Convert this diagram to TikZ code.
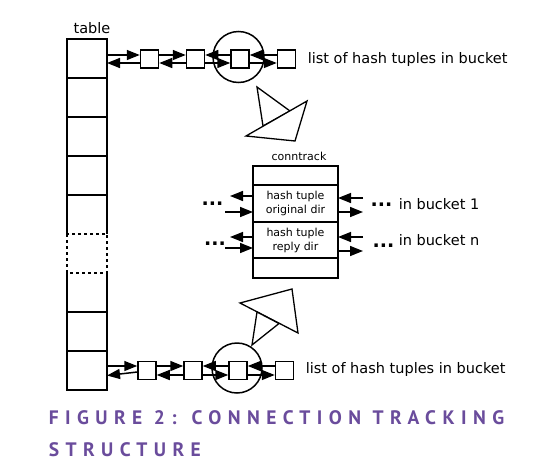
\documentclass[tikz,border=0pt]{standalone}
\usepackage{fontspec}
\setmainfont{DejaVu Sans}
\newfontfamily\capfont[LetterSpace=33]{PT Sans Bold}
\usepackage{tikz}
\usetikzlibrary{arrows.meta, positioning}
\usepackage{xcolor}
\definecolor{capviolet}{HTML}{6A4C9C}

\begin{document}
\begin{tikzpicture}[
      x=1pt, y=-1pt,
      line width=1.5pt,
      link/.style={-{Triangle[length=13pt,width=10pt]}},
      cell/.style={minimum width=40pt, minimum height=39pt, inner sep=0pt, outer sep=0pt},
      item/.style={draw, minimum size=18pt, inner sep=0pt},
      ring/.style={draw, circle, minimum size=51pt, inner sep=0pt},
      field/.style={draw, minimum width=85pt, inner sep=0pt, outer sep=0pt, align=center, font=\fontsize{11}{14}\selectfont},
      label/.style={font=\fontsize{14.5}{17}\selectfont, inner sep=0pt},
      dots/.style={font=\fontsize{19}{20}\selectfont\bfseries, inner sep=0pt, anchor=base}
    ]
    \useasboundingbox (0,0) rectangle (533,469);

    % Table
    \node[cell] (c1) at (87,58.5) {};
    \node[cell, below=0pt of c1] (c2) {};
    \node[cell, below=0pt of c2] (c3) {};
    \node[cell, below=0pt of c3] (c4) {};
    \node[cell, below=0pt of c4] (c5) {};
    \node[cell, below=0pt of c5] (c6) {};
    \node[cell, below=0pt of c6] (c7) {};
    \node[cell, below=0pt of c7] (c8) {};
    \node[cell, below=0pt of c8] (c9) {};
    \node[label] (table) at (92,28) {table};
    \draw[line width=1.7pt] (c5.south west) -- (c1.north west) -- (c1.north east) -- (c5.south east);
    \foreach \i in {1,...,4} \draw[line width=1.7pt] (c\i.south west) -- (c\i.south east);
    \draw[line width=1.7pt, dashed] (c6.north west) rectangle (c6.south east);
    \draw[line width=1.7pt] (c7.north west) -- (c9.south west) -- (c9.south east) -- (c7.north east);
    \foreach \i in {7,8} \draw[line width=1.7pt] (c\i.south west) -- (c\i.south east);

    % Top bucket list
    \node[item] (t1) at (149.5,59) {};
    \node[item] (t2) at (195.5,59) {};
    \node[item] (t3) at (240,59) {};
    \node[item] (t4) at (286.5,59) {};
    \node[ring] (tring) at (238.5,57) {};
    \node[label, anchor=west] (tlist) at (307,59) {list of hash tuples in bucket};

    % Bottom bucket list
    \node[item] (b1) at (147,370.5) {};
    \node[item] (b2) at (193,370.5) {};
    \node[item] (b3) at (238,370.5) {};
    \node[item] (b4) at (284.5,370.5) {};
    \node[ring, minimum size=50pt] (bring) at (237,368) {};
    \node[label, anchor=west] (blist) at (305,369) {list of hash tuples in bucket};

    % Pointers
    \draw[line width=1.3pt] (257,87) -- (263,126) -- (290,111) -- cycle;
    \draw[line width=1.3pt, fill=white] (246,136) -- (307,101) -- (295,141) -- cycle;
    \draw[line width=1.3pt] (240,303) -- (292,289) -- (298,333) -- cycle;
    \draw[line width=1.3pt, fill=white] (252,345) -- (257,312) -- (279,323.5) -- cycle;

    % Conntrack
    \node[field, minimum height=19pt] (ct1) at (295.5,175.5) {};
    \node[field, minimum height=37pt, below=0pt of ct1] (ct2) {hash tuple\\original dir};
    \node[field, minimum height=36pt, below=0pt of ct2] (ct3) {hash tuple\\reply dir};
    \node[field, minimum height=20pt, below=0pt of ct3] (ct4) {};
    \node[font=\fontsize{11}{14}\selectfont, inner sep=0pt] (conntrack) at (299,156) {conntrack};

    \node[dots] (dl1) at (212.5,205.5) {...};
    \node[dots] (dl2) at (215,245.5) {...};
    \node[dots] (dr1) at (381.5,206.5) {...};
    \node[dots] (dr2) at (383.5,247.5) {...};
    \node[label, anchor=west] (bucket1) at (398,204) {in bucket 1};
    \node[label, anchor=west] (bucketn) at (398,240) {in bucket n};

    \coordinate (l1a) at ([xshift=-23pt,yshift=7.5pt]ct2.west);
    \coordinate (l1b) at ([xshift=-28pt,yshift=-8.5pt]ct2.west);
    \coordinate (r1a) at ([xshift=25pt,yshift=5.5pt]ct2.east);
    \coordinate (r1b) at ([xshift=25pt,yshift=-8.5pt]ct2.east);
    \coordinate (l2a) at ([xshift=-23pt,yshift=3pt]ct3.west);
    \coordinate (l2b) at ([xshift=-28pt,yshift=-8pt]ct3.west);
    \coordinate (r2a) at ([xshift=25pt,yshift=3pt]ct3.east);
    \coordinate (r2b) at ([xshift=25pt,yshift=-11pt]ct3.east);

    % Caption
    \node[anchor=base west, inner sep=0pt, text=capviolet, font=\capfont\fontsize{19.5}{24}\selectfont] (cap1) at (48,424) {FIGURE 2: CONNECTION TRACKING};
    \node[anchor=base west, inner sep=0pt, text=capviolet, font=\capfont\fontsize{19.5}{24}\selectfont] (cap2) at (48,456) {STRUCTURE};

    % Arrows
    \draw[link] ([yshift=3.5pt]c1.east) -- ([yshift=4pt]t1.west);
    \draw[link] ([yshift=-4pt]t1.west) -- ([yshift=-4.5pt]c1.east);
    \draw[link] ([yshift=4pt]t1.east) -- ([yshift=4pt]t2.west);
    \draw[link] ([yshift=-4pt]t2.west) -- ([yshift=-4pt]t1.east);
    \draw[link] ([yshift=4pt]t3.west) -- ([yshift=4pt]t2.east);
    \draw[link] ([yshift=-4pt]t2.east) -- ([yshift=-4pt]t3.west);
    \draw[link] ([yshift=4pt]t4.west) -- ([yshift=4pt]t3.east);
    \draw[link] ([yshift=-4pt]t3.east) -- ([yshift=-4pt]t4.west);

    \draw[link] ([yshift=4.5pt]c9.east) -- ([yshift=4.5pt]b1.west);
    \draw[link] ([yshift=-1.5pt]b1.west) -- ([yshift=-5pt]c9.east);
    \draw[link] ([yshift=4.5pt]b1.east) -- ([yshift=4.5pt]b2.west);
    \draw[link] ([yshift=-4.5pt]b2.west) -- ([yshift=-4.5pt]b1.east);
    \draw[link] ([yshift=4.5pt]b3.west) -- ([yshift=4.5pt]b2.east);
    \draw[link] ([yshift=-4.5pt]b2.east) -- ([yshift=-4.5pt]b3.west);
    \draw[link] ([yshift=4.5pt]b4.west) -- ([yshift=4.5pt]b3.east);
    \draw[link] ([yshift=-4.5pt]b3.east) -- ([yshift=-4.5pt]b4.west);

    \draw[link] (ct2.west |- l1a) -- (l1a);
    \draw[link] (l1b) -- (ct2.west |- l1b);
    \draw[link] (r1a) -- (ct2.east |- r1a);
    \draw[link] (ct2.east |- r1b) -- (r1b);
    \draw[link] (ct3.west |- l2a) -- (l2a);
    \draw[link] (l2b) -- (ct3.west |- l2b);
    \draw[link] (r2a) -- (ct3.east |- r2a);
    \draw[link] (ct3.east |- r2b) -- (r2b);
  \end{tikzpicture}
\end{document}
